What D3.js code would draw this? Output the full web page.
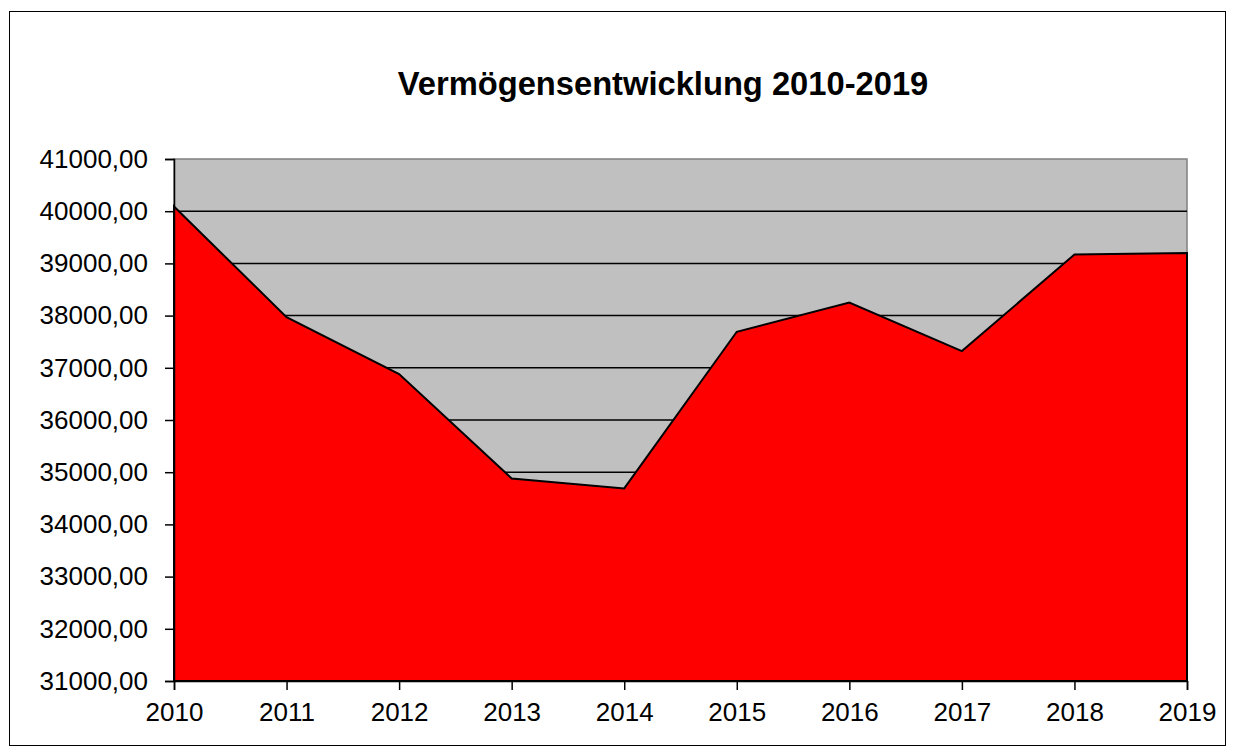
<!DOCTYPE html>
<html>
<head>
<meta charset="utf-8">
<script src="https://cdn.jsdelivr.net/npm/d3@7"></script>
<style>
  body { margin: 0; background: #fff; }
  text { font-family: Arial, "Liberation Sans", sans-serif; }
</style>
</head>
<body>
<div id="chart"></div>
<script>
// values
var years = [2010, 2011, 2012, 2013, 2014, 2015, 2016, 2017, 2018, 2019];
var values = [40090, 37970, 36880, 34880, 34690, 37690, 38250, 37320, 39170, 39200];
var yTicks = [31000, 32000, 33000, 34000, 35000, 36000, 37000, 38000, 39000, 40000, 41000];

var width = 1235, height = 756;
var margin = {top: 159, right: 48, bottom: 75, left: 174};

var svg = d3.select("#chart").append("svg")
    .attr("width", width)
    .attr("height", height);

// outer frame
svg.append("rect")
    .attr("x", 9.5).attr("y", 11.5)
    .attr("width", 1216).attr("height", 734)
    .attr("fill", "#fff")
    .attr("stroke", "#000");

var x = d3.scaleLinear()
    .domain([2010, 2019])
    .range([margin.left, width - margin.right]);

var y = d3.scaleLinear()
    .domain([31000, 41000])
    .range([height - margin.bottom, margin.top]);

// plot background
svg.append("rect")
    .attr("x", x(2010)).attr("y", y(41000))
    .attr("width", x(2019) - x(2010))
    .attr("height", y(31000) - y(41000))
    .attr("fill", "#c0c0c0")
    .attr("stroke", "#808080")
    .attr("stroke-width", 1.5);

// gridlines
svg.append("g")
  .selectAll("line")
  .data(yTicks.filter(d => d > 31000 && d < 41000))
  .join("line")
    .attr("x1", x(2010)).attr("x2", x(2019))
    .attr("y1", d => y(d)).attr("y2", d => y(d))
    .attr("stroke", "#000")
    .attr("stroke-width", 1.5);

var data = years.map((d, i) => ({year: d, value: values[i]}));

var area = d3.area()
    .x(d => x(d.year))
    .y0(y(31000))
    .y1(d => y(d.value));

svg.append("path")
    .datum(data)
    .attr("d", area)
    .attr("fill", "#ff0000")
    .attr("stroke", "#000")
    .attr("stroke-width", 2)
    .attr("stroke-linejoin", "miter");

// axes
var yAxis = d3.axisLeft(y)
    .tickValues(yTicks)
    .tickSize(9)
    .tickPadding(17)
    .tickFormat(d => d3.format(".2f")(d).replace(".", ","));

var xAxis = d3.axisBottom(x)
    .tickValues(years)
    .tickSize(9)
    .tickPadding(13)
    .tickFormat(d3.format("d"));

var gy = svg.append("g")
    .attr("transform", `translate(${x(2010)},0)`)
    .call(yAxis);

var gx = svg.append("g")
    .attr("transform", `translate(0,${y(31000)})`)
    .call(xAxis);

[gx, gy].forEach(g => {
  g.select(".domain").attr("stroke", "#000").attr("stroke-width", 1.5);
  g.selectAll(".tick line").attr("stroke", "#000").attr("stroke-width", 1.5);
  g.selectAll(".tick text")
    .attr("fill", "#000")
    .style("font-size", "26px")
    .style("font-family", "Arial, 'Liberation Sans', sans-serif");
});

// title
svg.append("text")
    .attr("x", 663)
    .attr("y", 95)
    .attr("text-anchor", "middle")
    .style("font-size", "32.7px")
    .style("font-weight", "bold")
    .text("Vermögensentwicklung 2010-2019");
</script>
</body>
</html>
